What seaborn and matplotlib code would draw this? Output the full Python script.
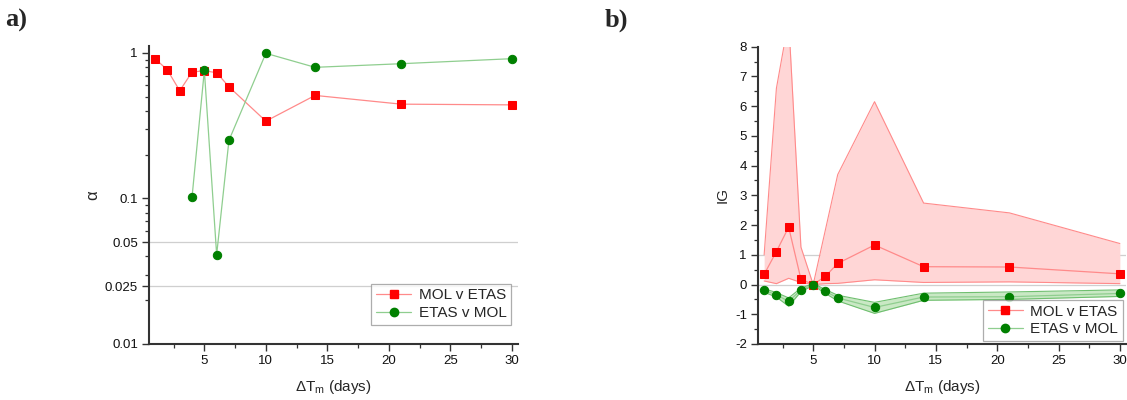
import numpy as np
import pandas as pd
import matplotlib
matplotlib.use("Agg")
import matplotlib.pyplot as plt
import matplotlib.ticker as mticker
from matplotlib.lines import Line2D
import seaborn as sns

# ---------------- data ----------------
days = [1, 2, 3, 4, 5, 6, 7, 10, 14, 21, 30]
alpha_mol_v_etas = [0.914, 0.763, 0.550, 0.740, 0.755, 0.732, 0.586, 0.340, 0.511, 0.445, 0.440]
days_etas = [4, 5, 6, 7, 10, 14, 21, 30]
alpha_etas_v_mol = [0.1026, 0.759, 0.0411, 0.251, 0.995, 0.797, 0.844, 0.914]

ig_mol = [0.34, 1.11, 1.93, 0.18, 0.0, 0.28, 0.71, 1.33, 0.60, 0.59, 0.36]
ig_mol_lo = [0.12, 0.03, 0.21, 0.07, 0.0, 0.03, 0.04, 0.16, 0.07, 0.09, 0.03]
ig_mol_hi = [1.0, 6.6, 8.9, 1.26, 0.0, 1.85, 3.7, 6.15, 2.74, 2.41, 1.38]

ig_etas = [-0.20, -0.34, -0.57, -0.18, 0.0, -0.23, -0.45, -0.77, -0.42, -0.41, -0.30]
ig_etas_lo = [-0.26, -0.42, -0.73, -0.24, -0.03, -0.30, -0.55, -0.97, -0.53, -0.50, -0.40]
ig_etas_hi = [-0.14, -0.27, -0.45, -0.12, 0.03, -0.17, -0.36, -0.60, -0.29, -0.25, -0.18]

labels = ["MOL v ETAS", "ETAS v MOL"]
x_ticks = [5, 10, 15, 20, 25, 30]
a_yticks = [0.01, 0.025, 0.05, 0.1, 1]
a_yticklabels = ["0.01", "0.025", "0.05", "0.1", "1"]
b_yticks = list(range(-2, 9))

# ---------------- style ----------------
sns.set_theme(style="ticks")
plt.rcParams["font.family"] = ["Liberation Sans", "DejaVu Sans"]
plt.rcParams["mathtext.fontset"] = "custom"
plt.rcParams["mathtext.rm"] = "Liberation Sans"
plt.rcParams["mathtext.it"] = "Liberation Sans:italic"
plt.rcParams["axes.unicode_minus"] = False

RED = "#ff0000"
RED_LINE = "#ff8a8a"
RED_FILL = "#ffd6d6"
GREEN = "#008000"
GREEN_LINE = "#8fce8f"
GREEN_FILL = "#c9e8c4"
SPINE = "#333333"
GRID = "#cfcfcf"

fig = plt.figure(figsize=(11.27, 4.0), dpi=100)
axa = fig.add_axes([149 / 1127, 1 - 344 / 400, (518 - 149) / 1127, (344 - 46) / 400])
axb = fig.add_axes([758 / 1127, 1 - 344 / 400, (1126 - 758) / 1127, (344 - 46.7) / 400])

df_a1 = pd.DataFrame({"days": days, "alpha": alpha_mol_v_etas})
df_a2 = pd.DataFrame({"days": days_etas, "alpha": alpha_etas_v_mol})

# ---------- panel a ----------
for yv in [0.05, 0.025]:
    axa.axhline(yv, color=GRID, lw=0.9, zorder=0)
sns.lineplot(data=df_a1, x="days", y="alpha", ax=axa, color=RED_LINE, lw=0.9,
             marker="s", markersize=5.5, markerfacecolor=RED, markeredgecolor=RED,
             legend=False, zorder=3)
sns.lineplot(data=df_a2, x="days", y="alpha", ax=axa, color=GREEN_LINE, lw=0.9,
             marker="o", markersize=6, markerfacecolor=GREEN, markeredgecolor=GREEN,
             legend=False, zorder=3)
axa.set_yscale("log")
axa.set_ylim(0.01, 1.117)
axa.set_xlim(0.5, 30.5)
axa.set_yticks(a_yticks)
axa.set_yticklabels(a_yticklabels)
axa.yaxis.set_minor_locator(mticker.LogLocator(base=10, subs=np.arange(2, 10)))
axa.yaxis.set_minor_formatter(mticker.NullFormatter())
axa.set_ylabel("α", fontsize=12, labelpad=3)

# ---------- panel b ----------
for yv in [0, 1]:
    axb.axhline(yv, color=GRID, lw=0.9, zorder=0)
axb.fill_between(days, ig_mol_lo, ig_mol_hi, color=RED_FILL, lw=0, zorder=1)
axb.fill_between(days, ig_etas_lo, ig_etas_hi, color=GREEN_FILL, lw=0, zorder=1)
for arr, c in [(ig_mol_lo, RED_LINE), (ig_mol_hi, RED_LINE),
               (ig_etas_lo, "#6fbf6f"), (ig_etas_hi, "#6fbf6f")]:
    sns.lineplot(x=days, y=arr, ax=axb, color=c, lw=0.8, legend=False, zorder=2)
sns.lineplot(x=days, y=ig_mol, ax=axb, color=RED_LINE, lw=0.9,
             marker="s", markersize=5.5, markerfacecolor=RED, markeredgecolor=RED,
             legend=False, zorder=3)
sns.lineplot(x=days, y=ig_etas, ax=axb, color=GREEN_LINE, lw=0.9,
             marker="o", markersize=6, markerfacecolor=GREEN, markeredgecolor=GREEN,
             legend=False, zorder=3)
axb.set_ylim(-2, 8)
axb.set_xlim(0.5, 30.5)
axb.set_yticks(b_yticks)
axb.yaxis.set_minor_locator(mticker.MultipleLocator(0.5))
axb.set_ylabel("IG", fontsize=11, labelpad=4)

# ---------- common ----------
handles = [
    Line2D([], [], color=RED_LINE, lw=0.9, marker="s", markersize=6,
           markerfacecolor=RED, markeredgecolor=RED),
    Line2D([], [], color=GREEN_LINE, lw=0.9, marker="o", markersize=6,
           markerfacecolor=GREEN, markeredgecolor=GREEN),
]
for ax, bbox in [(axa, (0.99, 0.055)), (axb, (1.0, 0.0))]:
    ax.set_xticks(x_ticks)
    ax.xaxis.set_minor_locator(mticker.MultipleLocator(2.5))
    ax.set_xlabel("ΔT$_{\\mathrm{m}}$ (days)", fontsize=11, labelpad=8)
    for s in ["top", "right"]:
        ax.spines[s].set_visible(False)
    for s in ["left", "bottom"]:
        ax.spines[s].set_color(SPINE)
        ax.spines[s].set_linewidth(1.5)
    ax.tick_params(which="major", direction="out", length=5, width=1.0,
                   color=SPINE, labelsize=9.5, labelcolor="#111111", pad=3)
    ax.tick_params(which="minor", direction="out", length=3, width=0.9, color=SPINE)
    leg = ax.legend(handles, labels, loc="lower right", bbox_to_anchor=bbox,
                    fontsize=11, frameon=True, fancybox=False, handlelength=2.3,
                    handletextpad=0.5, borderpad=0.3, labelspacing=0.25,
                    borderaxespad=0.2)
    leg.get_frame().set_edgecolor("#999999")
    leg.get_frame().set_linewidth(0.9)
    leg.set_zorder(5)

fig.text(5 / 1127, 1 - 20 / 400, "a)", fontsize=19, fontweight="bold",
         family="Liberation Serif", va="center", ha="left")
fig.text(605 / 1127, 1 - 20 / 400, "b)", fontsize=19, fontweight="bold",
         family="Liberation Serif", va="center", ha="left")

fig.savefig("out.png", dpi=100)
